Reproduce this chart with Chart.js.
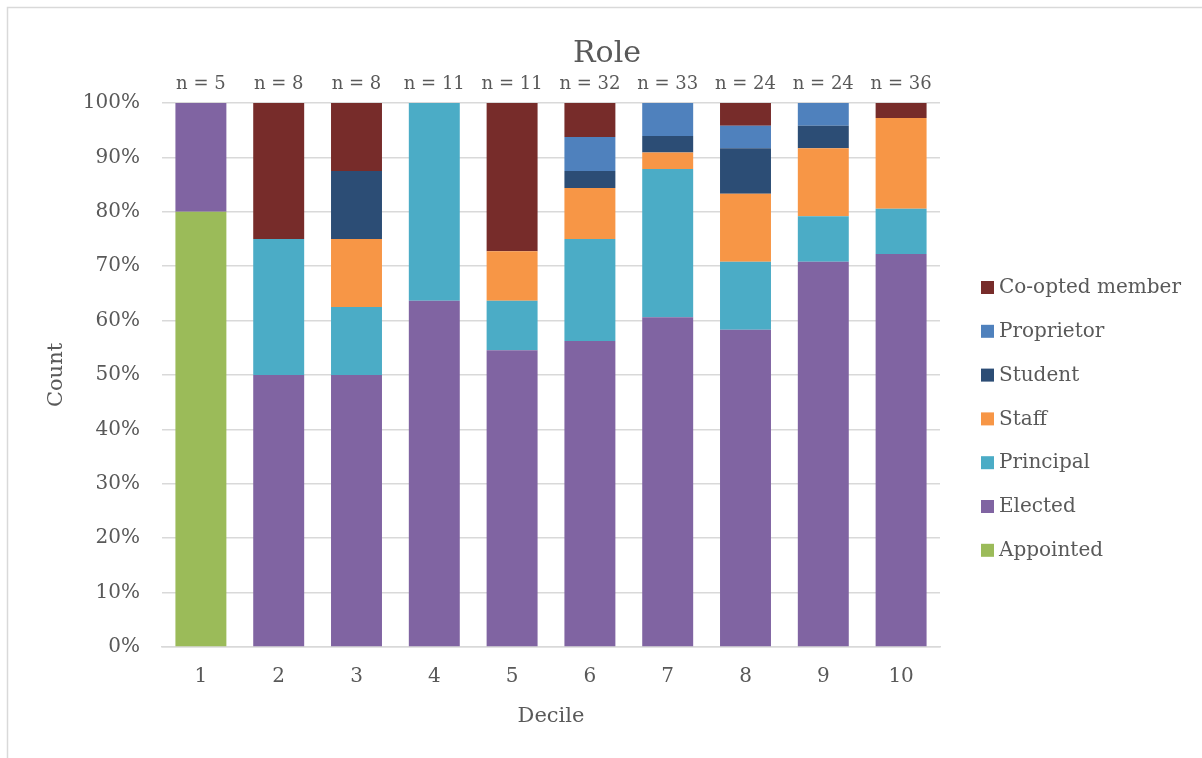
<!DOCTYPE html>
<html>
<head>
<meta charset="utf-8">
<script src="https://cdn.jsdelivr.net/npm/chart.js@4/dist/chart.umd.min.js"></script>
<style>
  html, body { margin: 0; padding: 0; background: #ffffff; }
  #wrap { position: relative; width: 1202px; height: 758px; }
  canvas { display: block; }
</style>
</head>
<body>
<div id="wrap"><canvas id="c" width="1202" height="758"></canvas></div>
<script>
// Deciles on the x axis
const deciles = ['1', '2', '3', '4', '5', '6', '7', '8', '9', '10'];

// Member counts per role in each decile
const appointed  = [4, 0, 0, 0, 0, 0, 0, 0, 0, 0];
const elected    = [1, 4, 4, 7, 6, 18, 20, 14, 17, 26];
const principal  = [0, 2, 1, 4, 1, 6, 9, 3, 2, 3];
const staff      = [0, 0, 1, 0, 1, 3, 1, 3, 3, 6];
const student    = [0, 0, 1, 0, 0, 1, 1, 2, 1, 0];
const proprietor = [0, 0, 0, 0, 0, 2, 2, 1, 1, 0];
const coopted    = [0, 2, 1, 0, 3, 2, 0, 1, 0, 1];

// Group sizes shown above the bars
const groupSizes = [5, 8, 8, 11, 11, 32, 33, 24, 24, 36];

const yTicks = [0, 10, 20, 30, 40, 50, 60, 70, 80, 90, 100];

const chartTitle = 'Role';

const FONT = "'DejaVu Serif', serif";
const TEXT = '#595959';

// Each segment as a share of its decile's total
const share = arr => arr.map((v, i) => v / groupSizes[i] * 100);

const series = [
  { label: 'Appointed',       counts: appointed,  color: '#9BBB59' },
  { label: 'Elected',         counts: elected,    color: '#8064A2' },
  { label: 'Principal',       counts: principal,  color: '#4BACC6' },
  { label: 'Staff',           counts: staff,      color: '#F79646' },
  { label: 'Student',         counts: student,    color: '#2C4D75' },
  { label: 'Proprietor',      counts: proprietor, color: '#4F81BD' },
  { label: 'Co-opted member', counts: coopted,    color: '#772C2A' }
];

// Outer frame, title, group-size labels and the legend on the right
const decorations = {
  id: 'decorations',
  beforeDraw(chart) {
    const ctx = chart.ctx;
    ctx.save();
    ctx.fillStyle = '#ffffff';
    ctx.fillRect(0, 0, chart.width, chart.height);
    ctx.strokeStyle = '#d9d9d9';
    ctx.lineWidth = 1.5;
    ctx.beginPath();
    ctx.moveTo(7.5, chart.height);
    ctx.lineTo(7.5, 7.5);
    ctx.lineTo(chart.width, 7.5);
    ctx.stroke();
    ctx.restore();
  },
  afterDraw(chart) {
    const ctx = chart.ctx;
    const xs = chart.scales.x;
    const top = chart.chartArea.top;
    ctx.save();
    ctx.fillStyle = TEXT;

    // chart title, centred on the whole figure
    ctx.font = "30px " + FONT;
    ctx.textAlign = 'center';
    ctx.textBaseline = 'alphabetic';
    ctx.fillText(chartTitle, 607, 62);

    ctx.font = "18px " + FONT;
    groupSizes.forEach((n, i) => {
      ctx.fillText('n = ' + n, xs.getPixelForValue(i), top - 14);
    });

    // legend, last series first
    const items = chart.data.datasets.slice().reverse();
    const lx = 981, ly0 = 287, step = 43.8;
    ctx.font = "20px " + FONT;
    ctx.textAlign = 'left';
    ctx.textBaseline = 'middle';
    items.forEach((ds, k) => {
      const y = ly0 + k * step;
      ctx.fillStyle = ds.backgroundColor;
      ctx.fillRect(lx, y - 6, 13, 13);
      ctx.fillStyle = TEXT;
      ctx.fillText(ds.label, lx + 18, y + 1);
    });
    ctx.restore();
  }
};

new Chart(document.getElementById('c'), {
  type: 'bar',
  data: {
    labels: deciles,
    datasets: series.map(s => ({
      label: s.label,
      data: share(s.counts),
      backgroundColor: s.color,
      borderWidth: 0,
      barPercentage: 0.655,
      categoryPercentage: 1.0
    }))
  },
  options: {
    responsive: false,
    animation: false,
    layout: { padding: { left: 0, right: 262, top: 103, bottom: 0 } },
    plugins: {
      legend: { display: false },
      tooltip: { enabled: false },
      title: { display: false }
    },
    scales: {
      x: {
        stacked: true,
        grid: { display: false, drawTicks: false },
        border: { display: true, color: '#d9d9d9', width: 1.5 },
        ticks: { color: TEXT, font: { family: FONT, size: 20 }, padding: 18 },
        title: {
          display: true,
          text: 'Decile',
          color: TEXT,
          font: { family: FONT, size: 21, lineHeight: 1.2 },
          padding: { top: 0, bottom: 29 }
        },
        afterFit(scale) { scale.height = 111; }
      },
      y: {
        stacked: true,
        min: 0,
        max: 100,
        afterBuildTicks(scale) { scale.ticks = yTicks.map(v => ({ value: v })); },
        grid: { color: '#d9d9d9', lineWidth: 1.5, drawTicks: false },
        border: { display: false },
        ticks: {
          color: TEXT,
          font: { family: FONT, size: 20 },
          padding: 22,
          callback: v => v + '%'
        },
        title: {
          display: true,
          text: 'Count',
          color: TEXT,
          font: { family: FONT, size: 21, lineHeight: 1.2 },
          padding: { top: 44, bottom: 0 }
        },
        afterFit(scale) { scale.width = 162; }
      }
    }
  },
  plugins: [decorations]
});
</script>
</body>
</html>
